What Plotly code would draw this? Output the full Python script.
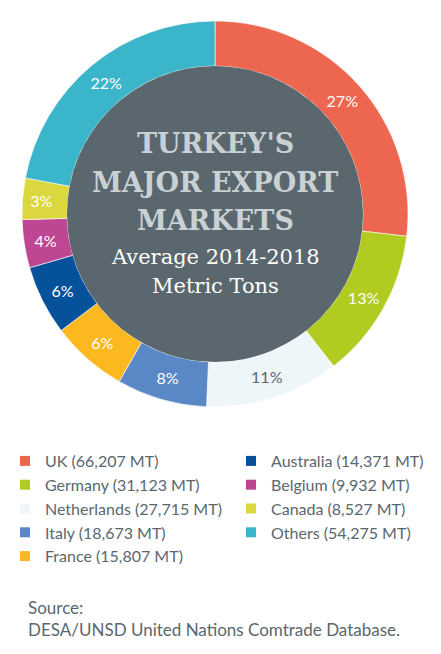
import plotly.graph_objects as go

countries = ["UK", "Germany", "Netherlands", "Italy", "France",
             "Australia", "Belgium", "Canada", "Others"]
tons = [66207, 31123, 27715, 18673, 15807, 14371, 9932, 8527, 54275]
tons_labels = ["66,207", "31,123", "27,715", "18,673", "15,807",
               "14,371", "9,932", "8,527", "54,275"]
colors = ["#ec6650", "#b2cb20", "#eff6fa", "#5a87c6", "#fbb91f",
          "#05529a", "#bf4692", "#dbd73e", "#3ab5c9"]
text_colors = ["white", "white", "#5a676e", "white", "white",
               "white", "white", "white", "white"]

title_lines = ["TURKEY'S", "MAJOR EXPORT", "MARKETS"]
subtitle_lines = ["Average 2014-2018", "Metric Tons"]
source_lines = ["Source:", "DESA/UNSD United Nations Comtrade Database."]

W, H = 441, 654
cx, cy, R = 215, 214, 193
hole = 0.767
r_in = R * hole
center_color = "#5a676e"
text_grey = "#5a676e"

fig = go.Figure()
fig.add_trace(go.Pie(
    labels=countries, values=tons, sort=False, direction="clockwise",
    rotation=0, hole=hole,
    marker=dict(colors=colors, line=dict(color="white", width=0.6)),
    texttemplate="%{percent:.0%}", textposition="inside",
    insidetextorientation="horizontal",
    textfont=dict(family="Lato", size=16, color=text_colors),
    domain=dict(x=[(cx - R) / W, (cx + R) / W],
                y=[1 - (cy + R) / H, 1 - (cy - R) / H]),
    showlegend=False, hoverinfo="label+value+percent",
))

# legend entries via dummy traces, split in two legends
n_first = 5
for i, (c, t, col) in enumerate(zip(countries, tons_labels, colors)):
    fig.add_trace(go.Scatter(
        x=[None], y=[None], mode="markers",
        marker=dict(symbol="square", size=10, color=col),
        name=f"{c} ({t} MT)", legendgroup=c,
        legend="legend" if i < n_first else "legend2",
        hoverinfo="skip",
    ))

legend_common = dict(
    font=dict(family="Lato", size=16, color=text_grey),
    bgcolor="rgba(0,0,0,0)", tracegroupgap=0, itemclick=False,
    itemdoubleclick=False, xanchor="left", yanchor="top",
)
fig.update_layout(
    legend=dict(x=5 / W, y=1 - 444 / H, **legend_common),
    legend2=dict(x=231 / W, y=1 - 444 / H, **legend_common),
)

# center disc
fig.add_shape(type="circle", xref="paper", yref="paper",
              x0=(cx - r_in) / W, x1=(cx + r_in) / W,
              y0=1 - (cy + r_in) / H, y1=1 - (cy - r_in) / H,
              fillcolor=center_color, line=dict(width=0), layer="above")

title_y = [143, 182, 220]
for txt, yy in zip(title_lines, title_y):
    fig.add_annotation(x=cx / W, y=1 - yy / H, xref="paper", yref="paper",
                       text=txt, showarrow=False, xanchor="center", yanchor="middle",
                       font=dict(family="DejaVu Serif", size=27, color="#c9d1d4",
                                 weight="bold"))
sub_y = [257, 286]
for txt, yy in zip(subtitle_lines, sub_y):
    fig.add_annotation(x=cx / W, y=1 - yy / H, xref="paper", yref="paper",
                       text=txt, showarrow=False, xanchor="center", yanchor="middle",
                       font=dict(family="DejaVu Serif", size=21, color="white"))

fig.add_annotation(x=26 / W, y=1 - 595 / H, xref="paper", yref="paper",
                   text="<br>".join(source_lines), showarrow=False,
                   xanchor="left", yanchor="top", align="left",
                   font=dict(family="Lato", size=17, color=text_grey))

fig.update_layout(
    width=W, height=H, margin=dict(l=0, r=0, t=0, b=0),
    paper_bgcolor="white", plot_bgcolor="white",
    xaxis=dict(visible=False), yaxis=dict(visible=False),
)
fig.write_html("out.html", config={"displayModeBar": False},
               post_script="document.body.style.margin='0';document.body.style.overflow='hidden';")
